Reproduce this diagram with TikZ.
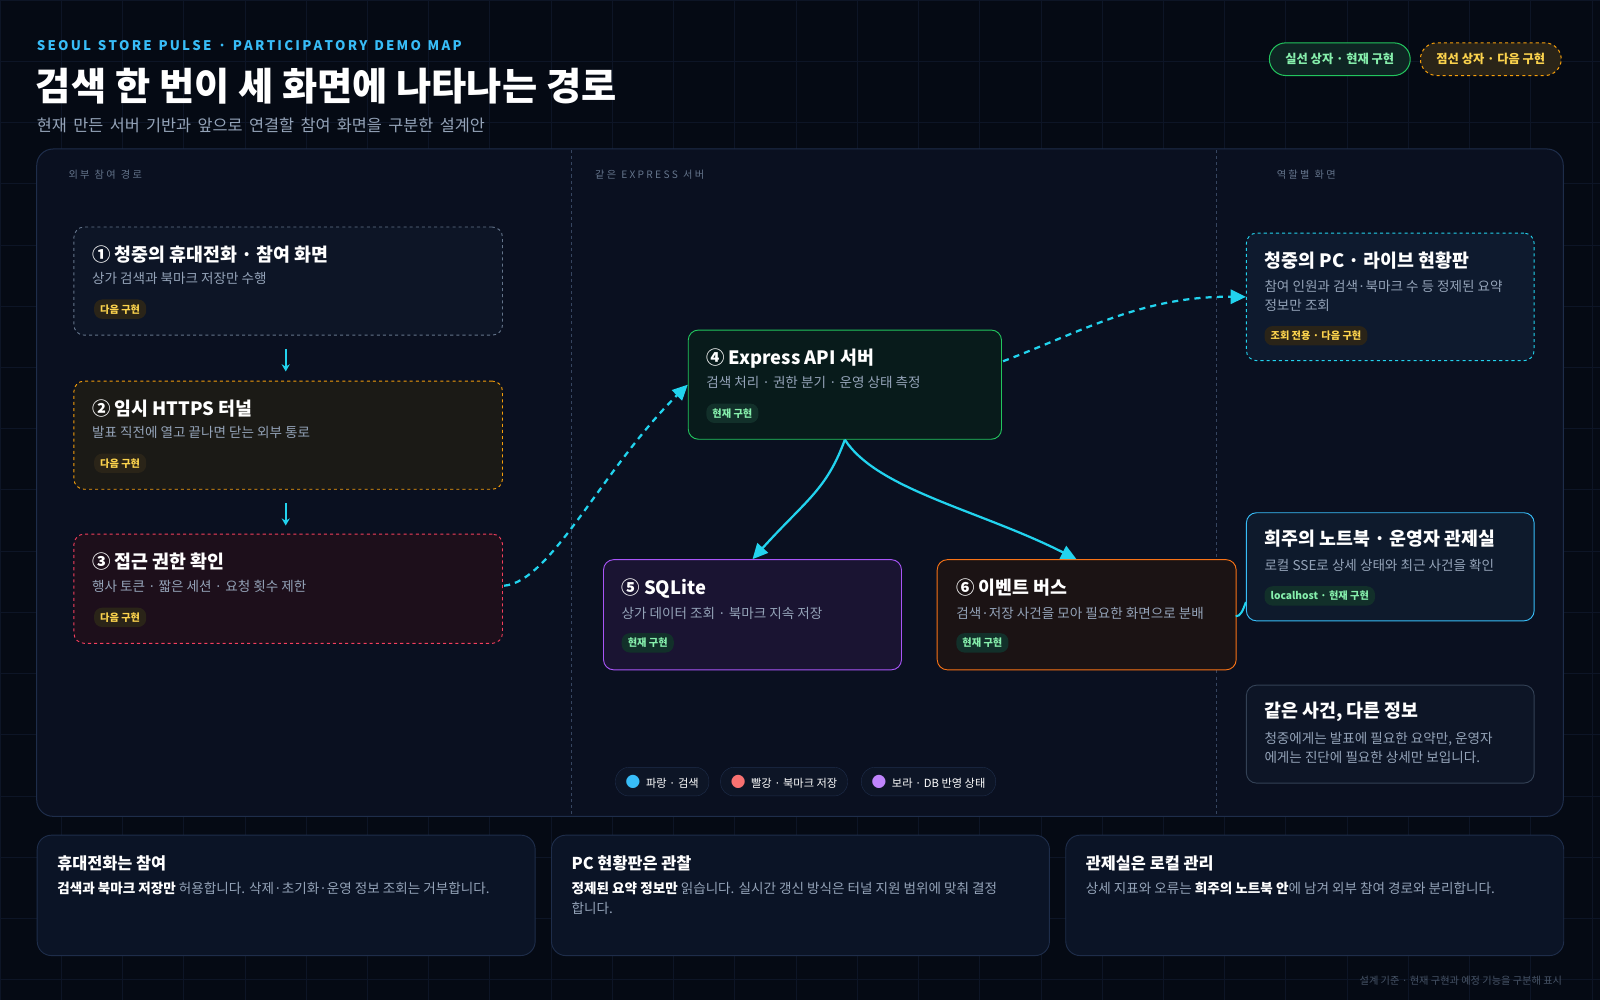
\documentclass[tikz,border=0pt]{standalone}
\usepackage{fontspec}
\setmainfont{Noto Sans CJK KR}
\usetikzlibrary{arrows.meta}
\definecolor{bg}{HTML}{050A14}
\definecolor{gridc}{HTML}{0D1526}
\definecolor{panel}{HTML}{0A1020}
\definecolor{panelb}{HTML}{1E2D4A}
\definecolor{cy}{HTML}{22D3EE}
\definecolor{cyt}{HTML}{38BDF8}
\definecolor{grn}{HTML}{22C55E}
\definecolor{org}{HTML}{F59E0B}
\definecolor{pnk}{HTML}{F43F5E}
\definecolor{pur}{HTML}{A855F7}
\definecolor{ora}{HTML}{F97316}
\definecolor{gry}{HTML}{94A3B8}
\definecolor{dimg}{HTML}{64748B}
\definecolor{tagy}{HTML}{FCD34D}
\definecolor{tagg}{HTML}{86EFAC}
\definecolor{tagbgN}{HTML}{2A2418}
\definecolor{tagbgC}{HTML}{12302A}
\definecolor{cardbg}{HTML}{0D1526}
\definecolor{botbg}{HTML}{0B1426}
\definecolor{slate}{HTML}{334155}
\definecolor{redd}{HTML}{F87171}
\definecolor{purd}{HTML}{C084FC}
\definecolor{pcbg}{HTML}{0E1A2E}
\definecolor{nbbg}{HTML}{0E1A2C}
\tikzset{
 box/.style={draw, rounded corners=10pt, line width=0.9pt, anchor=north west, inner sep=0},
 ttl/.style={anchor=west, text=white, font=\bfseries\fontsize{18}{21}\selectfont, inner sep=0},
 dsc/.style={anchor=west, text=gry, font=\fontsize{13.3}{19}\selectfont, inner sep=0, align=left},
 tag/.style={anchor=west, rounded corners=8pt, font=\bfseries\fontsize{10}{12}\selectfont, inner xsep=6pt, minimum height=19pt},
 tagN/.style={tag, fill=tagbgN, text=tagy},
 tagC/.style={tag, fill=tagbgC, text=tagg},
 col/.style={anchor=west, text=dimg, font=\fontsize{10}{12}\selectfont, inner sep=0},
 con/.style={cy, line width=2.2pt, -{Triangle[length=15pt,width=14pt]}},
 dcon/.style={con, dash pattern=on 6pt off 5pt},
 pill/.style={draw=panelb, fill=cardbg, rounded corners=13pt, minimum height=28pt, text=white, font=\fontsize{11}{12}\selectfont, anchor=west, inner xsep=10pt},
 card/.style={draw=panelb, fill=botbg, rounded corners=14pt, line width=0.9pt, anchor=north west, minimum width=488pt, minimum height=118pt},
 ctl/.style={anchor=west,text=white,font=\bfseries\fontsize{16}{18}\selectfont,inner sep=0},
 ctx/.style={anchor=north west,text=gry,font=\fontsize{13.3}{20}\selectfont,inner sep=0,align=left},
}
\begin{document}
\begin{tikzpicture}[x=1pt,y=-1pt]
\fill[bg] (0,0) rectangle (1568,980);
\useasboundingbox (0,0) rectangle (1568,980);
\foreach \i in {0,60,...,1560} \draw[gridc,line width=0.6pt] (\i,0) -- (\i,980);
\foreach \i in {0,60,...,960} \draw[gridc,line width=0.6pt] (0,\i) -- (1568,\i);
% header
\node[anchor=west,text=cyt,font=\bfseries\fontsize{13}{15}\selectfont,inner sep=0] (kick) at (36,45) {S\,E\,O\,U\,L\; S\,T\,O\,R\,E\; P\,U\,L\,S\,E\; ·\; P\,A\,R\,T\,I\,C\,I\,P\,A\,T\,O\,R\,Y\; D\,E\,M\,O\; M\,A\,P};
\node[anchor=west,text=white,font=\bfseries\fontsize{37.5}{40}\selectfont,inner sep=0] (title) at (35,84) {검색 한 번이 세 화면에 나타나는 경로};
\node[anchor=west,text=gry,font=\fontsize{16}{18}\selectfont,inner sep=0] (sub) at (36,123) {현재\, 만든\, 서버\, 기반과\, 앞으로\, 연결할\, 참여\, 화면을\, 구분한\, 설계안};
\node[draw=grn,fill=tagbgC!70!bg,rounded corners=16pt,minimum width=138pt,minimum height=32pt,text=tagg,font=\bfseries\fontsize{12}{13}\selectfont,line width=1pt] (lg1) at (1313,58) {실선 상자 · 현재 구현};
\node[draw=org,dashed,fill=tagbgN,rounded corners=16pt,minimum width=138pt,minimum height=32pt,text=tagy,font=\bfseries\fontsize{12}{13}\selectfont,line width=1pt] (lg2) at (1461,58) {점선 상자 · 다음 구현};
% panel
\draw[panelb,fill=panel,rounded corners=16pt,line width=1pt] (36,146) rectangle (1532,800);
\draw[panelb!80!gry,dashed,line width=0.7pt] (560,147) -- (560,799) (1192,147) -- (1192,799);
\node[col] (c1) at (67,171) {외 부\; 참 여\; 경 로};
\node[col] (c2) at (583,171) {같 은\; E X P R E S S\; 서 버};
\node[col] (c3) at (1251,171) {역 할 별\; 화 면};
% box1
\node[box,draw=dimg,dashed,fill=cardbg,minimum width=420pt,minimum height=106pt] (b1) at (72,222) {};
\node[ttl] (b1t) at (90,249) {① 청중의 휴대전화 · 참여 화면};
\node[dsc] (b1d) at (90,273) {상가 검색과 북마크 저장만 수행};
\node[tagN] (b1g) at (92,303) {다음 구현};
% box2
\node[box,draw=org,dashed,fill=tagbgN!60!bg,minimum width=420pt,minimum height=106pt] (b2) at (72,373) {};
\node[ttl] (b2t) at (90,400) {② 임시 HTTPS 터널};
\node[dsc] (b2d) at (90,424) {발표 직전에 열고 끝나면 닫는 외부 통로};
\node[tagN] (b2g) at (92,454) {다음 구현};
% box3
\node[box,draw=pnk,dashed,fill=pnk!10!bg,minimum width=420pt,minimum height=107pt] (b3) at (72,523) {};
\node[ttl] (b3t) at (90,550) {③ 접근 권한 확인};
\node[dsc] (b3d) at (90,575) {행사 토큰 · 짧은 세션 · 요청 횟수 제한};
\node[tagN] (b3g) at (92,605) {다음 구현};
% box4
\node[box,draw=grn,fill=grn!9!bg,minimum width=307pt,minimum height=107pt] (b4) at (674,323) {};
\node[ttl] (b4t) at (692,351) {④ Express API 서버};
\node[dsc] (b4d) at (692,375) {검색 처리 · 권한 분기 · 운영 상태 측정};
\node[tagC] (b4g) at (692,405) {현재 구현};
% box5
\node[box,draw=pur,fill=pur!13!bg,minimum width=292pt,minimum height=108pt] (b5) at (591,548) {};
\node[ttl] (b5t) at (609,577) {⑤ SQLite};
\node[dsc] (b5d) at (609,601) {상가 데이터 조회 · 북마크 지속 저장};
\node[tagC] (b5g) at (609,630) {현재 구현};
% box6
\node[box,draw=ora,fill=ora!9!bg,minimum width=293pt,minimum height=108pt] (b6) at (918,548) {};
\node[ttl] (b6t) at (937,576) {⑥ 이벤트 버스};
\node[dsc] (b6d) at (937,601) {검색·저장 사건을 모아 필요한 화면으로 분배};
\node[tagC] (b6g) at (937,630) {현재 구현};
% PC
\node[box,draw=cy,dashed,fill=pcbg,minimum width=282pt,minimum height=125pt] (pc) at (1221,228) {};
\node[ttl] (pct) at (1239,255) {청중의 PC · 라이브 현황판};
\node[dsc] (pcd) at (1239,290) {참여 인원과 검색·북마크 수 등 정제된 요약\\정보만 조회};
\node[tagN] (pcg) at (1239,329) {조회 전용 · 다음 구현};
% notebook
\node[box,draw=cyt,fill=nbbg,minimum width=282pt,minimum height=106pt] (nb) at (1221,502) {};
\node[ttl] (nbt) at (1239,528) {희주의 노트북 · 운영자 관제실};
\node[dsc] (nbd) at (1239,554) {로컬 SSE로 상세 상태와 최근 사건을 확인};
\node[tagC] (nbg) at (1239,584) {localhost · 현재 구현};
% info
\node[box,draw=slate,fill=cardbg,minimum width=282pt,minimum height=96pt] (inf) at (1221,671) {};
\node[ttl] (inft) at (1239,698) {같은 사건, 다른 정보};
\node[dsc] (infd) at (1239,733) {청중에게는 발표에 필요한 요약만, 운영자\\에게는 진단에 필요한 상세만 보입니다.};
% legend
\node[pill] (p1) at (603,766) {\textcolor{cyt}{\Large●}\; 파랑 · 검색};
\node[pill] (p2) at (706,766) {\textcolor{redd}{\Large●}\; 빨강 · 북마크 저장};
\node[pill] (p3) at (844,766) {\textcolor{purd}{\Large●}\; 보라 · DB 반영 상태};
% connectors
\coordinate (a1s) at (280,342); \coordinate (a1e) at (280,364);
\coordinate (a2s) at (280,493); \coordinate (a2e) at (280,515);
\draw[cy,line width=2pt,-{Stealth[length=7pt,width=8pt]}] (a1s) -- (a1e);
\draw[cy,line width=2pt,-{Stealth[length=7pt,width=8pt]}] (a2s) -- (a2e);
\coordinate (s3) at (494,574);
\coordinate (s4) at (983,354);
\coordinate (s6) at (1211,604);
\draw[dcon] (s3) .. controls (540,570) and (590,460) .. (b4.west);
\draw[dcon] (s4) .. controls (1060,325) and (1120,290) .. (pc.west);
\draw[con] (b4.south) .. controls (810,480) and (790,490) .. (b5.north);
\draw[con] (b4.south) .. controls (860,480) and (960,500) .. ([xshift=-10pt]b6.north);
\draw[cy,line width=2pt] (s6) .. controls (1216,604) and (1218,598) .. (1221,590);
% bottom cards
\node[card] (k1) at (36,818) {};
\node[card] (k2) at (540,818) {};
\node[card] (k3) at (1044,818) {};
\node[ctl] (k1t) at (56,846) {휴대전화는 참여};
\node[ctl] (k2t) at (560,846) {PC 현황판은 관찰};
\node[ctl] (k3t) at (1064,846) {관제실은 로컬 관리};
\node[ctx] (k1d) at (56,864) {\textcolor{white}{\bfseries 검색과 북마크 저장만} 허용합니다. 삭제·초기화·운영 정보 조회는 거부합니다.};
\node[ctx] (k2d) at (560,864) {\textcolor{white}{\bfseries 정제된 요약 정보만} 읽습니다. 실시간 갱신 방식은 터널 지원 범위에 맞춰 결정\\합니다.};
\node[ctx] (k3d) at (1064,864) {상세 지표와 오류는 \textcolor{white}{\bfseries 희주의 노트북 안}에 남겨 외부 참여 경로와 분리합니다.};
\node[anchor=east,text=dimg!70!bg,font=\fontsize{10}{11}\selectfont,inner sep=0] (foot) at (1531,961) {설계 기준 · 현재 구현과 예정 기능을 구분해 표시};
\end{tikzpicture}
\end{document}
